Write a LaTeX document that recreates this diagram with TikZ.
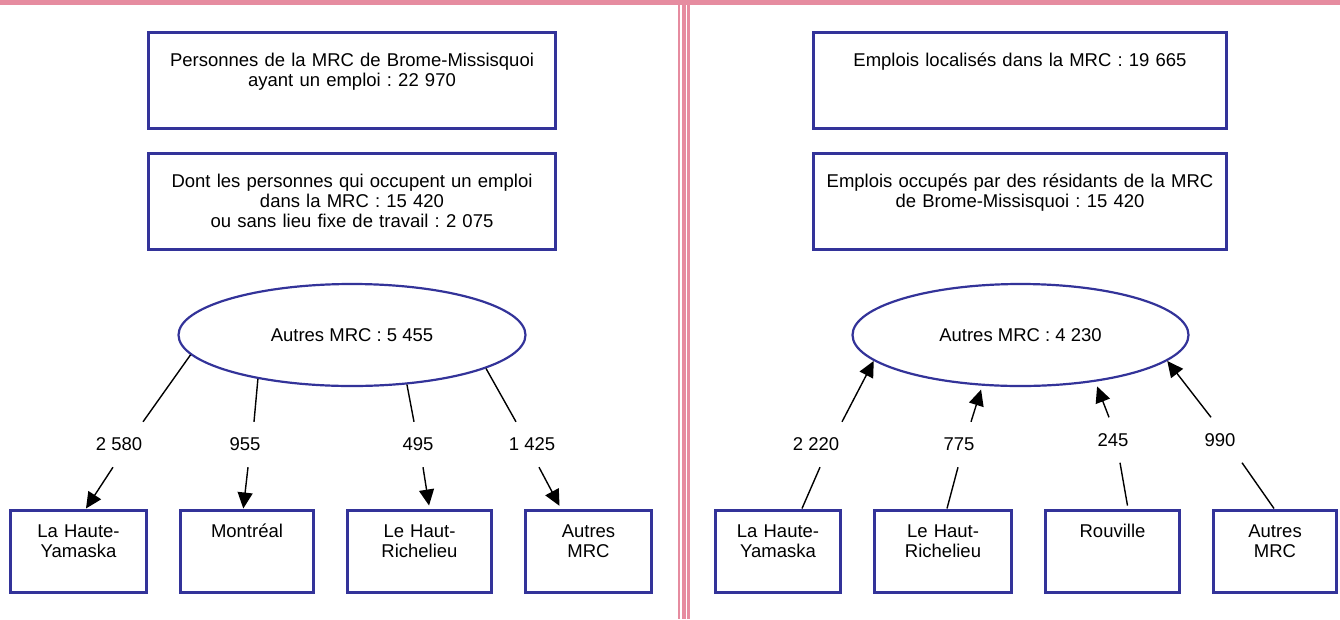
\documentclass[tikz,border=0pt]{standalone}
\usepackage{fontspec}
\setmainfont{Liberation Sans}
\frenchspacing
\usetikzlibrary{arrows, arrows.meta, shapes, positioning, calc}
\definecolor{mrcblue}{RGB}{51,51,153}
\definecolor{rose}{RGB}{230,140,160}

\begin{document}
\begin{tikzpicture}
            [x=1pt, y=-1pt, >={Triangle[length=16pt,width=15pt]}, node distance=31pt,
            font=\fontsize{18.5}{20}\selectfont,
            zone/.style={rectangle, draw=mrcblue, line width=3pt, fill=white, align=center,
                text height=13pt, text depth=41pt, inner sep=0pt},
            haut/.style={zone, minimum width=#1, minimum height=96pt, text width=400pt},
            lieu/.style={zone, minimum width=#1, minimum height=82pt, text width=#1},
            bulle/.style={ellipse, draw=mrcblue, line width=2.2pt, inner sep=0pt, minimum height=102pt},
            nombre/.style={inner sep=0pt, minimum height=45pt},
            lien/.style={line width=1.4pt}]

            \useasboundingbox (0,0) rectangle (1340,619);
            \fill[rose] (0,0) rectangle (1340,4.5);
            \fill[rose] (677.5,4) rectangle (680,619);
            \fill[rose] (681.5,4) rectangle (685.5,619);
            \fill[rose] (687,4) rectangle (689.5,619);

            \node[haut=407pt] (pers) at (352,80) {Personnes de la MRC de Brome-Missisquoi\\ayant un emploi : 22 970};
            \node[haut=407pt] (dans) [below=22pt of pers] {Dont les personnes qui occupent un emploi\\dans la MRC : 15 420\\ou sans lieu fixe de travail : 2 075};
            \node[bulle, minimum width=347pt] (ext1) at (352,335) {Autres MRC : 5 455};

            \node[lieu=136pt] (hy1) at (78.5,551) {La Haute-\\Yamaska};
            \node[lieu=133pt] (mtl) [right=of hy1] {Montréal};
            \node[lieu=144pt] (hr1) [right=of mtl] {Le Haut-\\Richelieu};
            \node[lieu=126pt] (aut1) [right=of hr1] {Autres\\MRC};

            \node[nombre] (n1) at (119,444.5) {2 580};
            \node[nombre] (n2) at (245,444.5) {955};
            \node[nombre] (n3) at (418,444.5) {495};
            \node[nombre] (n4) at (532,444.5) {1 425};

            \draw[lien] (ext1.187) -- ([xshift=24pt]n1.north);
            \draw[lien] (ext1.205) -- ([xshift=9pt]n2.north);
            \draw[lien] (ext1.318) -- ([xshift=-4pt]n3.north);
            \draw[lien] (ext1.346) -- ([xshift=-16pt]n4.north);
            \draw[lien,->] ([xshift=-6pt]n1.south) -- ([xshift=7.5pt]hy1.north);
            \draw[lien,->] ([xshift=3pt]n2.south) -- ([xshift=-3.7pt]mtl.north);
            \draw[lien,->, shorten >=3pt] ([xshift=5pt]n3.south) -- ([xshift=10pt]hr1.north);
            \draw[lien,->, shorten >=3pt] ([xshift=7pt]n4.south) -- ([xshift=-27.6pt]aut1.north);

            \node[haut=413pt] (empl) at (1020,80) {Emplois localisés dans la MRC : 19 665};
            \node[haut=413pt] (occ) [below=22pt of empl] {Emplois occupés par des résidants de la MRC\\de Brome-Missisquoi : 15 420};
            \node[bulle, minimum width=336pt] (ext2) at (1020.5,335) {Autres MRC : 4 230};

            \node[lieu=125pt] (hy2) at (778,551) {La Haute-\\Yamaska};
            \node[lieu=137pt] (hr2) [right=of hy2] {Le Haut-\\Richelieu};
            \node[lieu=134pt] (rou) [right=of hr2] {Rouville};
            \node[lieu=123pt] (aut2) [right=of rou] {Autres\\MRC};

            \node[nombre] (n5) at (816,444.5) {2 220};
            \node[nombre] (n6) at (959,444.5) {775};
            \node[nombre] (n7) at (1113,440) {245};
            \node[nombre] (n8) at (1220,440) {990};

            \draw[lien] ([xshift=24pt]hy2.north) -- ([xshift=4pt]n5.south);
            \draw[lien] ([xshift=4pt]hr2.north) -- ([xshift=-1pt]n6.south);
            \draw[lien, shorten <=3pt] ([xshift=15.5pt]rou.north) -- ([xshift=7pt]n7.south);
            \draw[lien] ([xshift=-1pt]aut2.north) -- ([xshift=22pt]n8.south);
            \draw[lien,->] ([xshift=26pt]n5.north) -- (ext2.190);
            \draw[lien,->, shorten >=4pt] ([xshift=12pt]n6.north) -- (ext2.233);
            \draw[lien,->, shorten >=5pt] ([xshift=-4pt]n7.north) -- (ext2.328);
            \draw[lien,->] ([xshift=-9pt]n8.north) -- (ext2.350);

          \end{tikzpicture}
\end{document}
